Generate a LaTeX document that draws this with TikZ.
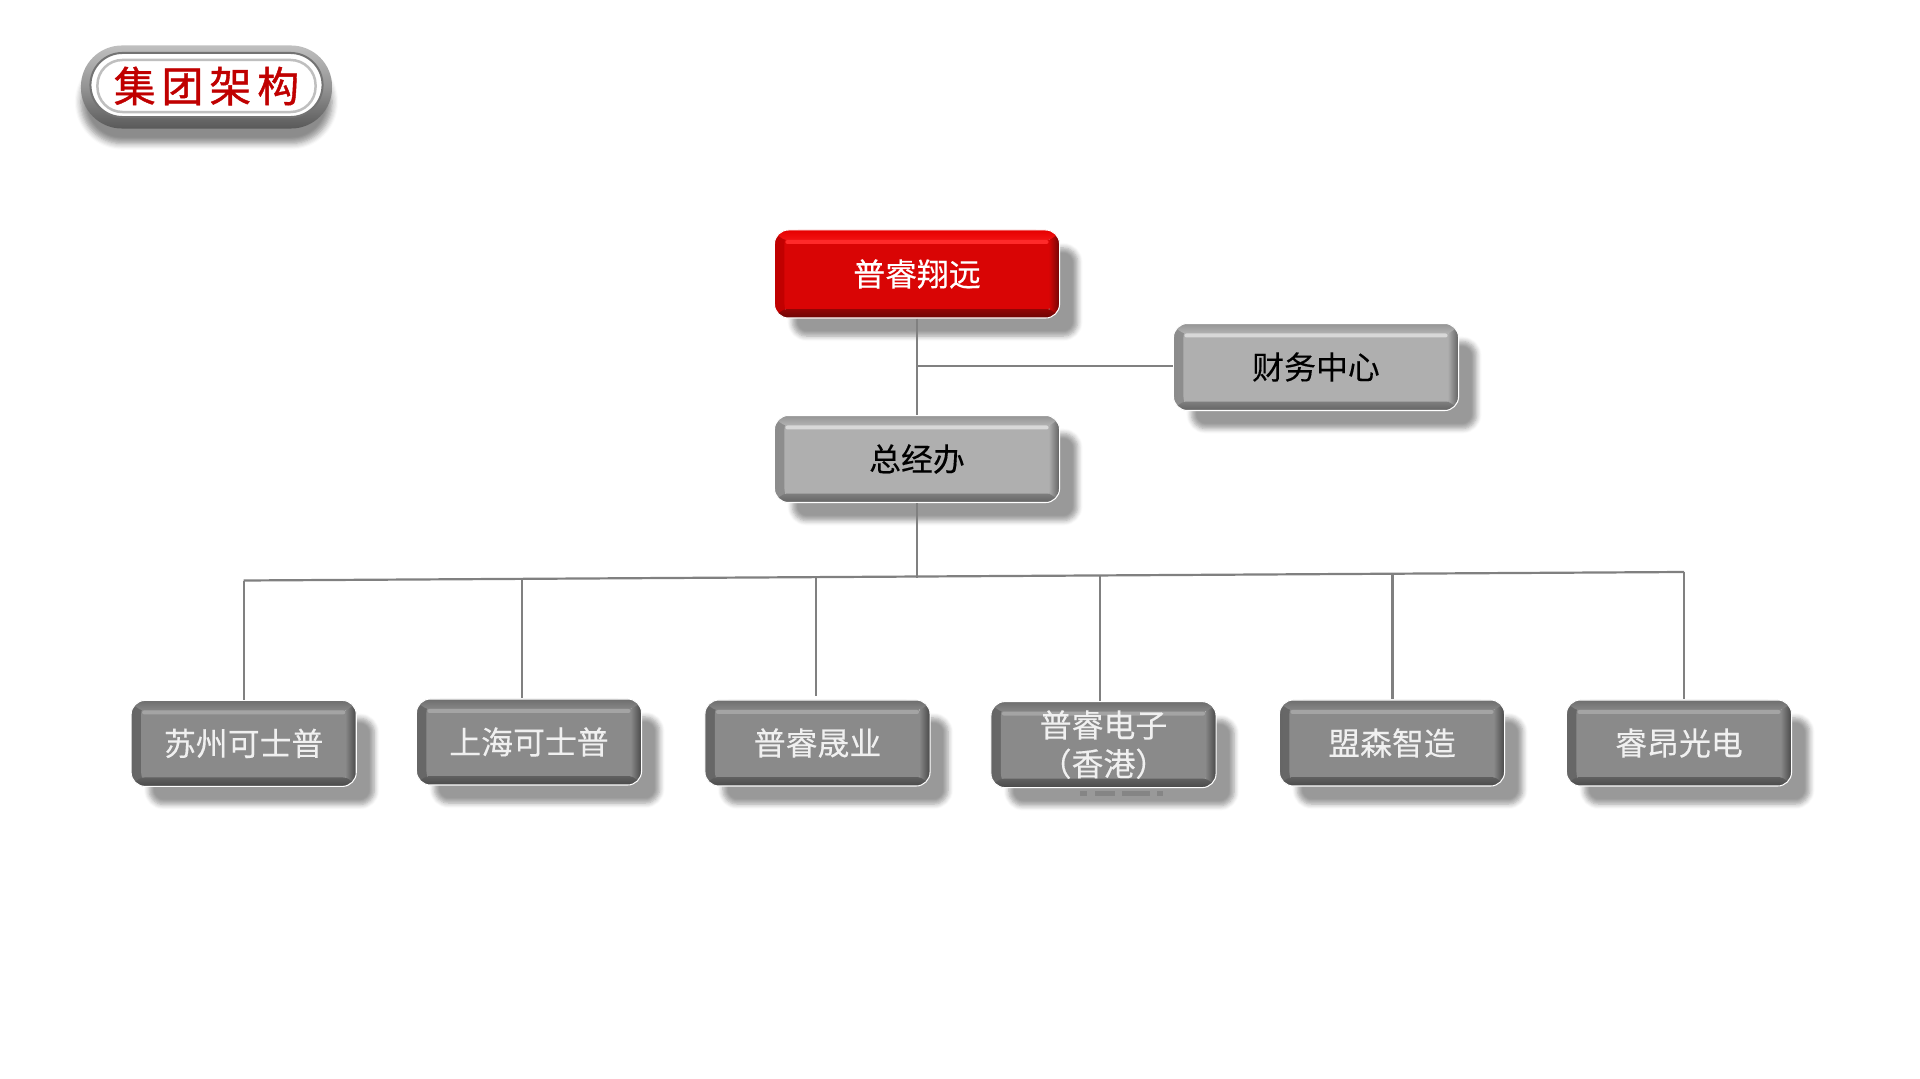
\documentclass[tikz,border=0pt]{standalone}
\usepackage{fontspec}
\newfontfamily\cjk[FakeBold=.25]{Noto Sans CJK SC}
\newfontfamily\cjktitle[FakeBold=1]{Noto Sans CJK SC}
\usetikzlibrary{shadows.blur}
\definecolor{linegray}{HTML}{808080}
\definecolor{titlered}{HTML}{C00000}
\definecolor{darkface}{HTML}{8A8A8A}
\definecolor{darktop}{HTML}{6E6E6E}
\definecolor{darklight}{HTML}{A4A4A4}
\definecolor{darklow}{HTML}{4A4A4A}
\definecolor{darkleft}{HTML}{666666}
\definecolor{darkright}{HTML}{474747}
\definecolor{midface}{HTML}{AFAFAF}
\definecolor{midtop}{HTML}{949494}
\definecolor{midlight}{HTML}{D8D8D8}
\definecolor{midlow}{HTML}{646464}
\definecolor{midleft}{HTML}{8C8C8C}
\definecolor{midright}{HTML}{606060}
\definecolor{redface}{HTML}{D90505}
\definecolor{redtop}{HTML}{E60000}
\definecolor{redlight}{HTML}{FF2A2A}
\definecolor{redlow}{HTML}{6C0505}
\definecolor{redleft}{HTML}{C00000}
\definecolor{redright}{HTML}{700505}
\tikzset{
  bevelbox/.style n args={6}{
    rectangle, rounded corners=.14cm, draw=white, line width=.3pt,
    minimum width=2.25cm, minimum height=.86cm, inner sep=0pt, align=center,
    font=\cjk\fontsize{9.07pt}{11pt}\selectfont,
    blur shadow={shadow xshift=.18cm, shadow yshift=-.18cm, shadow blur radius=.05cm, shadow blur steps=6, shadow opacity=40},
    path picture={
      \shade[left color=#5, right color=#1] (path picture bounding box.south west) rectangle ([xshift=.12cm]path picture bounding box.north west);
      \fill[#1] ([xshift=.1cm]path picture bounding box.south west) rectangle ([xshift=-.1cm]path picture bounding box.north east);
      \shade[left color=#1, right color=#6] ([xshift=-.11cm]path picture bounding box.south east) rectangle (path picture bounding box.north east);
      \shade[top color=#2, bottom color=#2!55!#3] (path picture bounding box.north west) rectangle ([yshift=-.1cm]path picture bounding box.north east);
      \shade[top color=#4!65!#1, bottom color=#4] (path picture bounding box.south west) rectangle ([yshift=.09cm]path picture bounding box.south east);
      \fill[#3, rounded corners=.02cm] ([shift={(.11cm,-.1cm)}]path picture bounding box.north west) rectangle ([shift={(-.11cm,-.14cm)}]path picture bounding box.north east);
    }},
  redbox/.style={bevelbox={redface}{redtop}{redlight}{redlow}{redleft}{redright}, minimum width=2.85cm, minimum height=.88cm, text=white},
  graybox/.style={bevelbox={midface}{midtop}{midlight}{midlow}{midleft}{midright}, minimum width=2.85cm, minimum height=.87cm, text=black},
  darkbox/.style={bevelbox={darkface}{darktop}{darklight}{darklow}{darkleft}{darkright}, text=white!94!black},
  link/.style={draw=linegray, line width=.022cm},
  pillring/.style={rectangle, rounded corners=.41cm, inner sep=0pt, top color=black!25, bottom color=black!65, middle color=black!42,
    blur shadow={shadow xshift=0cm, shadow yshift=-.15cm, shadow blur radius=.06cm, shadow blur steps=6, shadow opacity=45}},
  pillface/.style={rectangle, rounded corners=.32cm, inner sep=0pt, fill=white, draw=black!55, line width=.02cm},
  pillline/.style={rectangle, rounded corners=.25cm, inner sep=0pt, fill=white, draw=black!25, line width=.025cm}
}
\begin{document}
\begin{tikzpicture}[x=.01cm,y=-.01cm]
  \useasboundingbox (0,0) rectangle (1920,1079);
  \node[pillring, minimum width=2.51cm, minimum height=.83cm] (titlering) at (206.5,87) {};
  \node[pillface, minimum width=2.32cm, minimum height=.64cm] (titleface) at (206.5,85) {};
  \node[pillline, minimum width=2.18cm, minimum height=.52cm, text=titlered, font=\cjktitle\fontsize{11.9pt}{14pt}\selectfont] (title) at (206.5,86) {集\hspace{.06cm}团\hspace{.06cm}架\hspace{.06cm}构};
  \node[redbox] (group) at (917,274) {普睿翔远};
  \node[graybox] (finance) at (1316,367) {财务中心};
  \node[graybox] (office) at (917,459) {总经办};
  \node[darkbox] (s1) at (243.7,743.4) {苏州可士普};
  \node[darkbox] (s2) at (529,742) {上海可士普};
  \node[darkbox] (s3) at (817.5,743) {普睿晟业};
  \node[darkbox] (s4) at (1103.5,744.6) {普睿电子\\（香港）};
  \node[darkbox] (s5) at (1392,743) {盟森智造};
  \node[darkbox] (s6) at (1679,743) {睿昂光电};
  \coordinate (j1) at (917,366);
  \coordinate (j2) at (917,578);
  \coordinate (b1) at (243.7,580.5);
  \coordinate (b2) at (521.7,579);
  \coordinate (b3) at (815.7,578);
  \coordinate (b4) at (1099.8,575.6);
  \coordinate (b5) at (1392.5,574.4);
  \coordinate (b6) at (1684,572);
  \coordinate (d3) at (815.7,695.6);
  \path[link] (group) edge (j1);
  \path[link] (j1) edge (office);
  \path[link] (j1) edge (j1 -| finance.west);
  \path[link] (office) edge (j2);
  \path[link] (b1) edge (b6);
  \path[link] (b1) edge (b1 |- s1.north);
  \path[link] (b2) edge (b2 |- s2.north);
  \path[link] (b3) edge (d3);
  \path[link] (b4) edge (b4 |- s4.north);
  \path[link] (b5) edge (b5 |- s5.north);
  \path[link] (b6) edge (b6 |- s6.north);
  \draw[black!48, line width=.05cm, dash pattern=on .07cm off .08cm on .2cm off .07cm on .28cm off .07cm on .07cm off .2cm] (1080,793) -- (1163,793);
\end{tikzpicture}
\end{document}
